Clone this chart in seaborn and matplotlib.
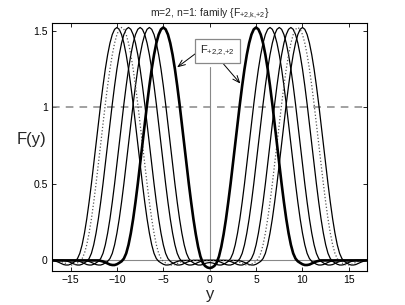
import numpy as np
import pandas as pd
import matplotlib
matplotlib.use("Agg")
import matplotlib.pyplot as plt
import seaborn as sns

# one bump of the family:
# value at distance 0, 0.25, 0.5, ... from its peak
bump_step = 0.25
bump_shape = [1.520, 1.508, 1.474, 1.418, 1.342, 1.249, 1.140, 1.020, 0.892, 0.760,
              0.628, 0.500, 0.380, 0.271, 0.178, 0.102, 0.046, 0.012, -0.006, -0.016,
              -0.025, -0.030, -0.030, -0.027, -0.020, -0.013, -0.007, -0.003, 0.0]

# |y| of the two peaks of each member of the family
bold_peak = 5.0
thin_peaks = [6.5, 7.5, 8.75, 10.0]
dotted_peak = 9.5

y_grid = np.arange(-17, 17.001, bump_step)
x_ticks = [-15, -10, -5, 0, 5, 10, 15]
y_ticks = [0, 0.5, 1, 1.5]
y_ticklabels = ['0', '0.5', '1', '1.5']

sns.set_style("ticks")
plt.rcParams['font.family'] = ['Liberation Sans', 'DejaVu Sans']
plt.rcParams['mathtext.fontset'] = 'custom'
plt.rcParams['mathtext.rm'] = 'Liberation Sans'
plt.rcParams['mathtext.it'] = 'Liberation Sans'


def bump_at(dist):
    idx = np.rint(np.abs(dist) / bump_step).astype(int)
    out = np.zeros(len(idx))
    ok = idx < len(bump_shape)
    out[ok] = np.array(bump_shape)[idx[ok]]
    return out


def member(c):
    return bump_at(y_grid - c) + bump_at(y_grid + c)


rows = []
for c in thin_peaks:
    rows.append(pd.DataFrame({'y': y_grid, 'F': member(c), 'curve': f'thin {c}'}))
thin_df = pd.concat(rows)
dot_df = pd.DataFrame({'y': y_grid, 'F': member(dotted_peak)})
bold_df = pd.DataFrame({'y': y_grid, 'F': member(bold_peak)})

fig = plt.figure(figsize=(4.06, 3.05), dpi=100)
ax = fig.add_axes([0.128, 0.111, 0.777, 0.814])

ax.axhline(0, color='#888888', lw=0.8, zorder=1)
ax.axhline(1, color='#888888', lw=1.1, ls=(0, (5, 4)), zorder=1)
ax.axvline(0, ymin=0, ymax=0.824, color='#888888', lw=0.8, zorder=1)

sns.lineplot(data=thin_df, x='y', y='F', units='curve', estimator=None,
             color='black', lw=0.9, ax=ax, zorder=3)
sns.lineplot(data=dot_df, x='y', y='F', color='#555555', lw=0.9, ls=':',
             estimator=None, ax=ax, zorder=3)
sns.lineplot(data=bold_df, x='y', y='F', color='black', lw=1.9,
             estimator=None, ax=ax, zorder=4)

# label box with arrows onto the bold curve
ax.text(-1.05, 1.365, r'F$_{{+}2{,}2{,}{+}2}$', fontsize=8, ha='left', va='center', zorder=6,
        bbox=dict(boxstyle='square,pad=0.45', fc='white', ec='#888888', lw=0.9))
left_pt = bold_df.loc[np.isclose(bold_df['y'], -3.75)].iloc[0]
right_pt = bold_df.loc[np.isclose(bold_df['y'], 3.5)].iloc[0]
ax.annotate('', xy=(left_pt['y'], left_pt['F']), xytext=(-1.3, 1.36),
            arrowprops=dict(arrowstyle='->,head_length=0.5,head_width=0.2', color='black', lw=0.7), zorder=5)
ax.annotate('', xy=(right_pt['y'], right_pt['F']), xytext=(1.3, 1.295),
            arrowprops=dict(arrowstyle='->,head_length=0.5,head_width=0.2', color='black', lw=0.7), zorder=5)

ax.set_xlim(-17, 17)
ax.set_ylim(-0.07, 1.55)
ax.set_xticks(x_ticks)
ax.set_xticklabels(['\u221215', '\u221210', '\u22125', '0', '5', '10', '15'])
ax.set_yticks(y_ticks)
ax.set_yticklabels(y_ticklabels)
ax.tick_params(direction='in', length=3, width=0.6, labelsize=7.5, pad=3,
               top=True, right=True, colors='black')
for s in ax.spines.values():
    s.set_linewidth(0.8)
    s.set_color('black')

ax.set_xlabel('y', fontsize=12, labelpad=1)
ax.set_ylabel('F(y)', fontsize=12, rotation=0, ha='center', va='center')
ax.yaxis.set_label_coords(-0.066, 0.53)
ax.set_title(r'm=2, n=1: family {F$_{{+}2{,}k{,}{+}2}$}', fontsize=7.5, pad=5)

fig.savefig('out.png', dpi=100)
